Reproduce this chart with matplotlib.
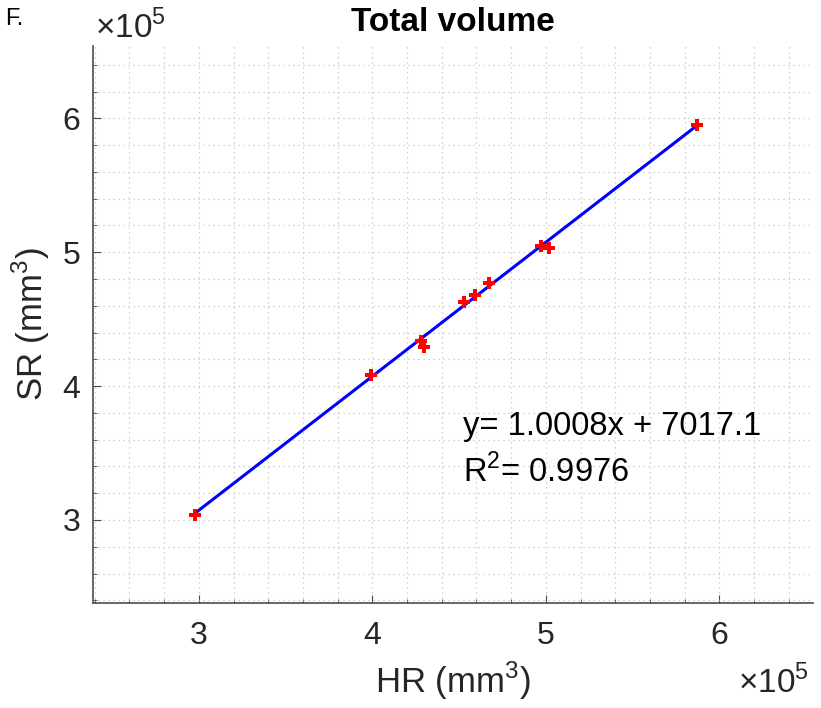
import numpy as np
import matplotlib
matplotlib.use("Agg")
import matplotlib.pyplot as plt
from matplotlib.ticker import MultipleLocator, FuncFormatter

plt.rcParams['font.family'] = ['Liberation Sans', 'DejaVu Sans']
plt.rcParams['mathtext.fontset'] = 'custom'
plt.rcParams['mathtext.rm'] = 'Liberation Sans'

# volumes (mm^3)
hr = [2.98e5, 3.99e5, 4.28e5, 4.30e5, 4.53e5, 4.59e5, 4.67e5, 4.97e5, 5.02e5, 5.87e5]
sr = [3.04e5, 4.08e5, 4.34e5, 4.29e5, 4.63e5, 4.68e5, 4.77e5, 5.05e5, 5.03e5, 5.95e5]
slope = 1.0008
intercept = 7017.1
r2 = 0.9976

fig = plt.figure(figsize=(8.21, 7.08), dpi=100)
ax = fig.add_axes([93/821, 1 - 603/708, 720/821, 557/708])

xs = np.array([min(hr), max(hr)])
ax.plot(xs, slope*xs + intercept, color='#0000ff', lw=2.2, zorder=3)
ax.plot(hr, sr, 'P', color='#ff0000', ms=9, mew=0, zorder=4)

ax.set_xlim(2.39e5, 6.54e5)
ax.set_ylim(2.38e5, 6.54e5)

sc = FuncFormatter(lambda v, p: '%g' % (v/1e5))
ax.xaxis.set_major_locator(MultipleLocator(1e5))
ax.yaxis.set_major_locator(MultipleLocator(1e5))
ax.xaxis.set_minor_locator(MultipleLocator(0.2e5))
ax.yaxis.set_minor_locator(MultipleLocator(0.2e5))
ax.xaxis.set_major_formatter(sc)
ax.yaxis.set_major_formatter(sc)

ax.grid(which='both', ls=(0, (1, 3)), color='#c4c4c4', lw=0.9)
ax.set_axisbelow(True)
for s in ['top', 'right']:
    ax.spines[s].set_visible(False)
for s in ['left', 'bottom']:
    ax.spines[s].set_color('#4d4d4d')
    ax.spines[s].set_linewidth(1.2)
ax.tick_params(which='both', direction='in', colors='#4d4d4d', labelcolor='#262626',
               labelsize=23)
ax.tick_params(which='major', length=6)
ax.tick_params(axis='x', which='major', pad=13)
ax.tick_params(axis='y', which='major', pad=9)
ax.tick_params(which='minor', length=3)

ax.set_xlabel('HR (mm$^3$)', fontsize=25, color='#262626', labelpad=6)
ax.set_ylabel('SR (mm$^3$)', fontsize=25, color='#262626', labelpad=8)
ax.set_title('Total volume', fontsize=24, fontweight='bold', pad=11)

fig.text(5/821, 1 - 25/708, 'F.', fontsize=17, va='baseline', ha='left')
fig.text(95/821, 1 - 38/708, r'$\times10^5$', fontsize=24, va='baseline', ha='left', color='#262626')
fig.text(738/821, 1 - 693/708, r'$\times10^5$', fontsize=24, va='baseline', ha='left', color='#262626')

ax.text(4.52e5, 3.635e5, 'y= %.4fx + %.1f' % (slope, intercept), fontsize=23.5,
        va='baseline', color='black')
ax.text(4.52e5, 3.284e5, 'R$^2$= %.4f' % r2, fontsize=23.5, va='baseline', color='black')

fig.savefig('out.png', dpi=100)
